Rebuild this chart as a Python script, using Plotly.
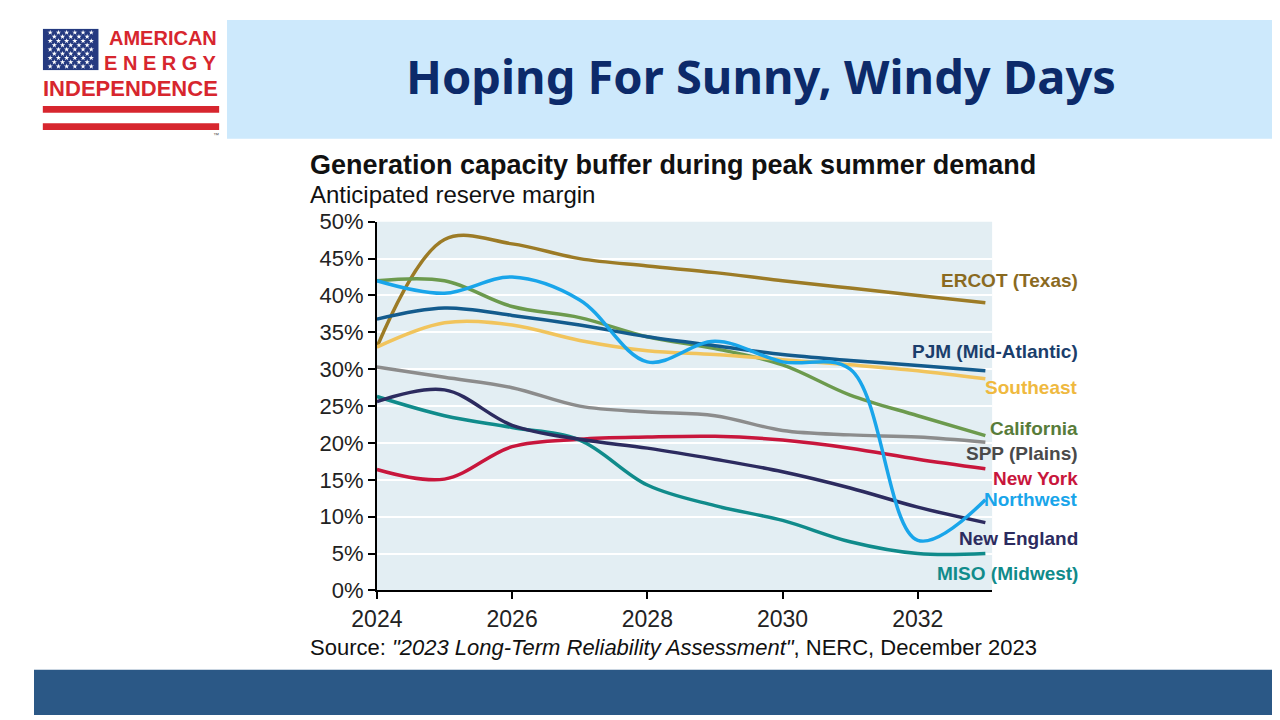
import plotly.graph_objects as go

years = [2024, 2025, 2026, 2027, 2028, 2029, 2030, 2031, 2032, 2033]

ercot = [33.0, 47.6, 47.0, 45.0, 44.0, 43.1, 42.0, 41.0, 40.0, 39.0]
pjm = [36.8, 38.3, 37.3, 36.0, 34.4, 33.2, 32.0, 31.2, 30.5, 29.8]
southeast = [33.0, 36.3, 36.0, 33.9, 32.5, 32.0, 31.3, 30.6, 29.8, 28.7]
california = [42.0, 42.0, 38.5, 37.0, 34.4, 32.8, 30.6, 26.5, 23.7, 21.0]
spp = [30.3, 28.9, 27.5, 25.0, 24.2, 23.7, 21.7, 21.1, 20.8, 20.1]
new_york = [16.4, 15.1, 19.5, 20.5, 20.8, 20.9, 20.4, 19.3, 17.8, 16.5]
northwest = [42.0, 40.3, 42.5, 39.4, 31.0, 33.8, 31.0, 30.0, 6.8, 12.3]
new_england = [25.6, 27.2, 22.4, 20.5, 19.3, 17.8, 16.1, 13.9, 11.3, 9.2]
miso = [26.3, 23.7, 22.1, 20.4, 14.3, 11.5, 9.5, 6.6, 5.0, 5.0]

y_ticks = [0, 5, 10, 15, 20, 25, 30, 35, 40, 45, 50]
y_tick_text = ["0%", "5%", "10%", "15%", "20%", "25%", "30%", "35%", "40%", "45%", "50%"]
x_ticks = [2024, 2026, 2028, 2030, 2032]

# name, values, line colour, label colour, label y (px from top)
series = [
    ("ERCOT (Texas)", ercot, "#9c7b26", "#8a6a1f", 270),
    ("California", california, "#6c9a4d", "#587c3a", 423),
    ("Southeast", southeast, "#f1c45c", "#efb93f", 381),
    ("PJM (Mid-Atlantic)", pjm, "#135b8d", "#1b3e6c", 343),
    ("SPP (Plains)", spp, "#8c8c8c", "#4a4a4a", 449),
    ("New York", new_york, "#c8163c", "#c8163c", 475),
    ("MISO (Midwest)", miso, "#108b8b", "#108b8b", 573),
    ("New England", new_england, "#2c2b5f", "#2c2b5f", 537),
    ("Northwest", northwest, "#19a5ea", "#19a5ea", 497),
]

W, H = 1280, 720

def px(x):
    return x / W

def py(y):
    return 1 - y / H

fig = go.Figure()

for name, vals, col, lcol, ly in series:
    fig.add_trace(go.Scatter(
        x=years, y=vals, name=name, mode="lines",
        line=dict(color=col, width=3.5, shape="spline", smoothing=1.0),
        hoverinfo="x+y+name",
    ))

annotations = []
for name, vals, col, lcol, ly in series:
    annotations.append(dict(
        xref="paper", yref="paper", x=px(1068), y=py(ly),
        xanchor="right", yanchor="middle", showarrow=False, text="<b>" + name + "</b>",
        font=dict(family="Liberation Sans, Arial", size=19, color=lcol),
    ))

# chart titles and source
annotations.append(dict(
    xref="paper", yref="paper", x=px(280), y=py(150), xanchor="left", yanchor="middle",
    showarrow=False, text="<b>Generation capacity buffer during peak summer demand</b>",
    font=dict(family="Liberation Sans, Arial", size=27, color="#111111"),
))
annotations.append(dict(
    xref="paper", yref="paper", x=px(280), y=py(181), xanchor="left", yanchor="middle",
    showarrow=False, text="Anticipated reserve margin",
    font=dict(family="Liberation Sans, Arial", size=24, color="#111111"),
))
annotations.append(dict(
    xref="paper", yref="paper", x=px(280), y=py(650), xanchor="left", yanchor="middle",
    showarrow=False,
    text='Source: <i>"2023 Long-Term Reliability Assessment"</i>, NERC, December 2023',
    font=dict(family="Liberation Sans, Arial", size=22, color="#111111"),
))

# header
annotations.append(dict(
    xref="paper", yref="paper", x=px(742), y=py(58), xanchor="center", yanchor="middle",
    showarrow=False, text="<b>Hoping For Sunny, Windy Days</b>",
    font=dict(family="Noto Sans, Open Sans", size=47, color="#0c2a6a"),
))

# logo text
logo_red = "#d7262e"
annotations.append(dict(
    xref="paper", yref="paper", x=px(189), y=py(19), xanchor="right", yanchor="middle",
    showarrow=False, text="<b>AMERICAN</b>",
    font=dict(family="Liberation Sans, Arial", size=20, color=logo_red),
))
annotations.append(dict(
    xref="paper", yref="paper", x=px(189), y=py(45), xanchor="right", yanchor="middle",
    showarrow=False, text="<b>E N E R G Y</b>",
    font=dict(family="Liberation Sans, Arial", size=20, color=logo_red),
))
annotations.append(dict(
    xref="paper", yref="paper", x=px(98), y=py(71), xanchor="center", yanchor="middle",
    showarrow=False, text="<b>INDEPENDENCE</b>",
    font=dict(family="Liberation Sans, Arial", size=22, color=logo_red),
))
annotations.append(dict(
    xref="paper", yref="paper", x=px(186), y=py(119), xanchor="center", yanchor="middle",
    showarrow=False, text="™", font=dict(family="Liberation Sans", size=6, color="#555555"),
))

shapes = [
    dict(type="rect", xref="paper", yref="paper", x0=px(197), x1=1, y0=py(123), y1=1,
         fillcolor="#cde9fc", line_width=0, layer="below"),
    dict(type="rect", xref="paper", yref="paper", x0=0, x1=1, y0=0, y1=py(673),
         fillcolor="#2b5886", line_width=0, layer="below"),
    dict(type="rect", xref="paper", yref="paper", x0=px(9), x1=px(189), y0=py(96), y1=py(89),
         fillcolor=logo_red, line_width=0),
    dict(type="rect", xref="paper", yref="paper", x0=px(9), x1=px(189), y0=py(114), y1=py(107),
         fillcolor=logo_red, line_width=0),
    # flag field, drawn on the small overlay axes so the stars sit above it
    dict(type="rect", xref="x2", yref="y2", x0=-0.9, x1=5.9, y0=-0.9, y1=8.9,
         fillcolor="#253a80", line_width=0, layer="below"),
]

# stars of the flag on a hidden overlay axis
sx, sy = [], []
for r in range(9):
    n = 6 if r % 2 == 0 else 5
    off = 0 if r % 2 == 0 else 0.5
    for c in range(n):
        sx.append(c + off)
        sy.append(r)
fig.add_trace(go.Scatter(
    x=sx, y=sy, mode="markers", xaxis="x2", yaxis="y2", hoverinfo="skip",
    marker=dict(symbol="star", size=4, color="white"), showlegend=False,
))

fig.update_layout(
    width=W, height=H,
    margin=dict(l=0, r=0, t=0, b=0),
    paper_bgcolor="white",
    plot_bgcolor="#e3eef3",
    showlegend=False,
    annotations=annotations,
    shapes=shapes,
    xaxis=dict(
        domain=[px(350), px(978)], range=[2024, 2033.1],
        tickvals=x_ticks, ticks="outside", ticklen=7, tickwidth=2, tickcolor="black",
        showline=True, linecolor="black", linewidth=2, showgrid=False, zeroline=False,
        tickfont=dict(family="Liberation Sans, Arial", size=23, color="#222222"),
    ),
    yaxis=dict(
        domain=[py(591), py(209)], range=[0, 50],
        tickvals=y_ticks, ticktext=y_tick_text, ticks="outside", ticklen=7, tickwidth=2,
        tickcolor="black", showline=True, linecolor="black", linewidth=2,
        showgrid=True, gridcolor="white", gridwidth=2, zeroline=False,
        tickfont=dict(family="Liberation Sans, Arial", size=22, color="#222222"),
    ),
    xaxis2=dict(domain=[px(9), px(66)], range=[-0.9, 5.9], visible=False, anchor="y2"),
    yaxis2=dict(domain=[py(52), py(9)], range=[-0.9, 8.9], visible=False, anchor="x2"),
)

fig.write_html("out.html")
